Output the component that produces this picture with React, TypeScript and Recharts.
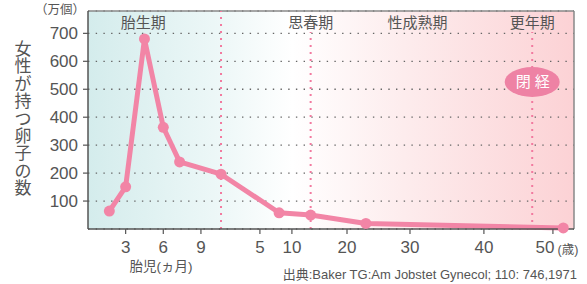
import React from 'react';
import {
  LineChart,
  Line,
  XAxis,
  YAxis,
  CartesianGrid,
  ReferenceLine,
  ReferenceDot,
} from 'recharts';

// ---- data ----
// fetal period: months since conception, eggs in 万個
const fetalMonths = [1.7, 3, 4.5, 6, 7.3];
const fetalEggs = [64, 151, 680, 364, 240];
const birthEggs = 196;
// after birth: age in years
const postAges = [8, 13.4, 23, 51.5];
const postEggs = [58, 50, 20, 4];

// tick labels
const fetalTickMonths = [3, 6, 9];
const ageTickYears = [5, 10, 20, 30, 40, 50];
const yTicks = [100, 200, 300, 400, 500, 600, 700];

// timeline axis (1 unit = 1 fetal month); after birth the age axis is uneven
const BIRTH_UNIT = 10.6;
const ageAnchorYears = [0, 5, 10, 20, 30, 40, 50];
const ageAnchorUnits = [10.6, 13.7, 16.25, 20.64, 25.66, 31.55, 37.05];
const X_MAX = 38.73;
const Y_MAX = 780;

const PUBERTY_AGE = 13.4;
const MATURE_AGE = 31;
const MENOPAUSE_AGE = 47;
const FETAL_LABEL_MONTH = 4.4;

function ageToUnit(age: number): number {
  const n = ageAnchorYears.length;
  for (let i = 0; i < n - 1; i++) {
    if (age <= ageAnchorYears[i + 1]) {
      const t = (age - ageAnchorYears[i]) / (ageAnchorYears[i + 1] - ageAnchorYears[i]);
      return ageAnchorUnits[i] + t * (ageAnchorUnits[i + 1] - ageAnchorUnits[i]);
    }
  }
  const slope = (ageAnchorUnits[n - 1] - ageAnchorUnits[n - 2]) / (ageAnchorYears[n - 1] - ageAnchorYears[n - 2]);
  return ageAnchorUnits[n - 1] + (age - ageAnchorYears[n - 1]) * slope;
}

const data = [
  ...fetalMonths.map((m, i) => ({ u: m, eggs: fetalEggs[i] })),
  { u: BIRTH_UNIT, eggs: birthEggs },
  ...postAges.map((a, i) => ({ u: ageToUnit(a), eggs: postEggs[i] })),
];

const xTicks = [...fetalTickMonths, ...ageTickYears.map(ageToUnit)];
const xTickLabels = [...fetalTickMonths.map(String), ...ageTickYears.map(String)];

const FONT = '"Liberation Sans", Arial, "Noto Sans CJK JP", sans-serif';
const TEXT = '#555';
const PINK = '#f285a6';

const XTick = (props: any) => {
  const { x, y, index } = props;
  const last = index === xTickLabels.length - 1;
  return (
    <text x={x + (last ? -8 : 0)} y={y} dy="0.71em" textAnchor="middle" fontSize={17} fill={TEXT}>
      {xTickLabels[index]}
    </text>
  );
};

const periodLabel = (text: string) => (props: any) => {
  const vb = props.viewBox || {};
  return (
    <text x={vb.x} y={(vb.y || 0) + 17} textAnchor="middle" fontSize={15} fill={TEXT}>
      {text}
    </text>
  );
};

const Badge = (p: any) => (
  <g>
    <ellipse cx={p.cx} cy={p.cy} rx={27.5} ry={15} fill="#ee82a4" />
    <text x={p.cx - 9} y={p.cy + 5.5} textAnchor="middle" fontSize={15} fill="#fff">閉</text>
    <text x={p.cx + 10} y={p.cy + 5.5} textAnchor="middle" fontSize={15} fill="#fff">経</text>
  </g>
);

const yTitle = '女性が持つ卵子の数'.split('');

export default function App() {
  return (
    <div style={{ position: 'absolute', left: 0, top: 0, width: 587, height: 284, fontFamily: FONT, background: '#fff' }}>
      <svg width={0} height={0} style={{ position: 'absolute' }}>
        <defs>
          <linearGradient id="bgGrad" x1="0" y1="0" x2="1" y2="0">
            <stop offset="0" stopColor="#d4ecec" />
            <stop offset="0.28" stopColor="#eef8f8" />
            <stop offset="0.42" stopColor="#ffffff" />
            <stop offset="0.65" stopColor="#fdeced" />
            <stop offset="1" stopColor="#fcd2d5" />
          </linearGradient>
        </defs>
      </svg>
      <LineChart width={587} height={284} data={data} margin={{ top: 11, right: 13, bottom: 0, left: 0 }}>
        <CartesianGrid
          vertical={false}
          stroke="#666"
          strokeWidth={1.3}
          strokeDasharray="1.4 6.3"
          fill="url(#bgGrad)"
          fillOpacity={1}
        />
        <XAxis
          type="number"
          dataKey="u"
          domain={[0, X_MAX]}
          ticks={xTicks}
          interval={0}
          height={55}
          tick={<XTick />}
          tickSize={5}
          tickMargin={7}
          axisLine={{ stroke: '#555', strokeWidth: 1.5 }}
          tickLine={{ stroke: '#555', strokeWidth: 1.2 }}
        />
        <YAxis
          type="number"
          domain={[0, Y_MAX]}
          ticks={yTicks}
          interval={0}
          width={88}
          tick={{ fontSize: 17, fill: TEXT }}
          tickSize={5}
          tickMargin={5}
          axisLine={{ stroke: '#555', strokeWidth: 1.5 }}
          tickLine={{ stroke: '#555', strokeWidth: 1.2 }}
        />
        <ReferenceLine y={Y_MAX} stroke="#888" strokeWidth={1.5} />
        <ReferenceLine x={X_MAX} stroke="#888" strokeWidth={1.5} />
        <ReferenceLine x={BIRTH_UNIT} stroke="#f27a9f" strokeWidth={2} strokeDasharray="2 5" />
        <ReferenceLine
          segment={[{ x: ageToUnit(PUBERTY_AGE), y: 0 }, { x: ageToUnit(PUBERTY_AGE), y: 705 }]}
          stroke="#f27a9f"
          strokeWidth={2}
          strokeDasharray="2 5"
        />
        <ReferenceLine
          segment={[{ x: ageToUnit(MENOPAUSE_AGE), y: 0 }, { x: ageToUnit(MENOPAUSE_AGE), y: 705 }]}
          stroke="#f27a9f"
          strokeWidth={2}
          strokeDasharray="2 5"
        />
        <ReferenceLine x={FETAL_LABEL_MONTH} stroke="none" label={periodLabel('胎生期')} />
        <ReferenceLine x={ageToUnit(PUBERTY_AGE)} stroke="none" label={periodLabel('思春期')} />
        <ReferenceLine x={ageToUnit(MATURE_AGE)} stroke="none" label={periodLabel('性成熟期')} />
        <ReferenceLine x={ageToUnit(MENOPAUSE_AGE)} stroke="none" label={periodLabel('更年期')} />
        <ReferenceDot x={ageToUnit(MENOPAUSE_AGE)} y={526} r={0} shape={Badge} />
        <Line
          type="linear"
          dataKey="eggs"
          stroke={PINK}
          strokeWidth={5}
          strokeLinejoin="round"
          dot={{ r: 5.5, fill: PINK, stroke: 'none' }}
          activeDot={false}
          isAnimationActive={false}
        />
      </LineChart>
      <svg width={587} height={284} style={{ position: 'absolute', left: 0, top: 0, pointerEvents: 'none' }}>
        <text x={60} y={14} textAnchor="middle" fontSize={12.5} fill={TEXT}>（万個）</text>
        {yTitle.map((c, i) => (
          <text key={i} x={23} y={55 + i * 17.4} textAnchor="middle" fontSize={17} fill={TEXT}>
            {c}
          </text>
        ))}
        <text x={161} y={271} textAnchor="middle" fontSize={13.5} fill={TEXT}>胎児(ヵ月)</text>
        <text x={568} y={254} textAnchor="middle" fontSize={12.5} fill={TEXT}>(歳)</text>
        <text x={577} y={279} textAnchor="end" fontSize={13} fill={TEXT}>
          出典:Baker TG:Am Jobstet Gynecol; 110: 746,1971
        </text>
      </svg>
    </div>
  );
}
